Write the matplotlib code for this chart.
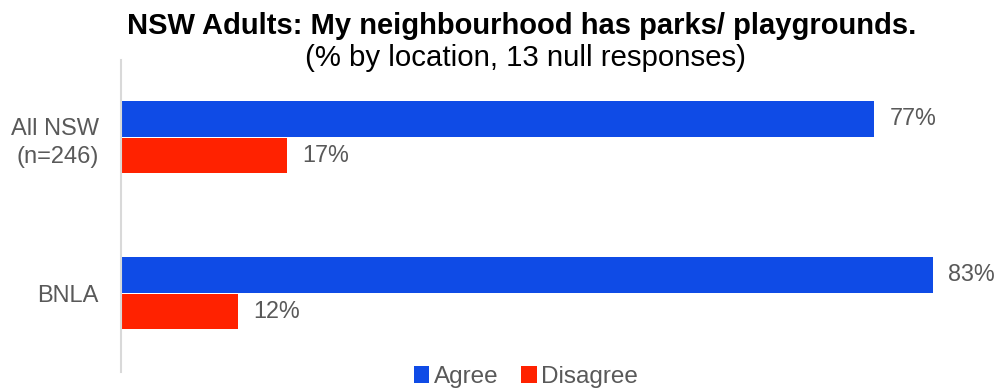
import matplotlib
matplotlib.use("Agg")
import matplotlib.pyplot as plt
from matplotlib.patches import Patch
import numpy as np

plt.rcParams['font.family'] = ['Liberation Sans', 'DejaVu Sans']

locations = ["All NSW\n(n=246)", "BNLA"]
agree = [77, 83]
disagree = [17, 12]
series_names = ["Agree", "Disagree"]
colors = ["#0F4BE6", "#FF2200"]
text_color = "#595959"

fig = plt.figure(figsize=(9.96, 3.92), dpi=100)
ax = fig.add_axes([121 / 996, 1 - 372 / 392, (983 - 121) / 996, (372 - 60) / 392])

y = np.arange(len(locations))
h = 0.235
for vals, off, col in [(agree, -h / 2, colors[0]), (disagree, h / 2, colors[1])]:
    bars = ax.barh(y + off, vals, height=h - 0.006, color=col, edgecolor='none')
    for b, v in zip(bars, vals):
        ax.text(v + 1.55, b.get_y() + b.get_height() / 2, f"{v}%",
                va='center', ha='left', fontsize=16.8, color=text_color)

ax.set_xlim(0, 88.1)
ax.set_ylim(1.506, -0.494)
ax.set_yticks(y)
ax.set_yticklabels(locations, fontsize=17, color=text_color, linespacing=1.4)
ax.tick_params(axis='y', length=0, pad=16)
ax.set_xticks([])
for s in ['top', 'right', 'bottom']:
    ax.spines[s].set_visible(False)
ax.spines['left'].set_color('#D9D9D9')
ax.spines['left'].set_linewidth(1.5)

fig.text(522 / 996, 1 - 26 / 392, "NSW Adults: My neighbourhood has parks/ playgrounds.",
         ha='center', va='center', fontsize=21, fontweight='bold', color='black')
fig.text(525 / 996, 1 - 58 / 392, "(% by location, 13 null responses)",
         ha='center', va='center', fontsize=21.2, color='black')

handles = [Patch(facecolor=c, edgecolor='none') for c in colors]
fig.legend(handles, series_names, loc='center', bbox_to_anchor=(526 / 996, 1 - 377 / 392),
           ncol=2, frameon=False, fontsize=17.5, handlelength=0.65, handleheight=0.65,
           handletextpad=0.2, columnspacing=0.9, labelcolor=text_color,
           borderpad=0, borderaxespad=0)

fig.savefig("out.png", dpi=100)
